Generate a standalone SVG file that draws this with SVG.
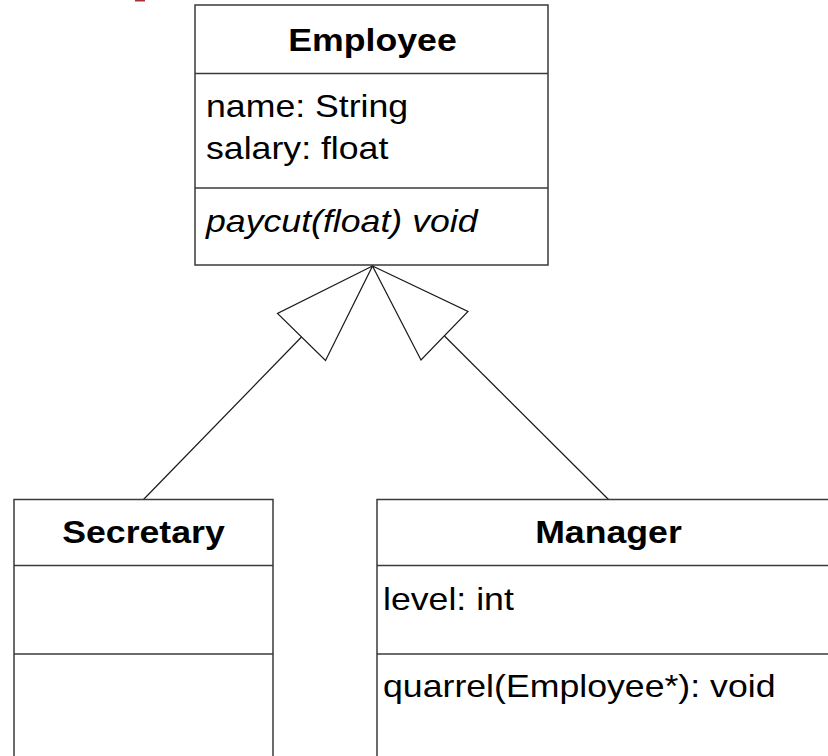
<svg xmlns="http://www.w3.org/2000/svg" width="828" height="756" viewBox="0 0 828 756">
  <style>
    .box { fill: #ffffff; stroke: #3a3a3a; stroke-width: 1.5; }
    .sep { stroke: #3a3a3a; stroke-width: 1.5; }
    .edge { fill: none; stroke: #1a1a1a; stroke-width: 1.2; }
    .head { fill: #ffffff; stroke: #1a1a1a; stroke-width: 1.2; stroke-linejoin: miter; }
    text { font-family: "Liberation Sans", Arial, Helvetica, sans-serif; font-size: 32px; fill: #000000; }
    .title { font-weight: bold; text-anchor: middle; }
    .op { font-style: italic; }
  </style>

  <!-- clipped fragment at the top edge -->
  <rect x="135" y="0" width="10" height="1.5" fill="#a83232"/>

  <!-- generalization connectors -->
  <g id="connectors">
    <line class="edge" x1="301.5" y1="337" x2="143.5" y2="499.5"/>
    <polygon class="head" points="372.5,266 277.5,313.5 325.5,360.5"/>
    <line class="edge" x1="444.5" y1="336" x2="608.5" y2="499.5"/>
    <polygon class="head" points="372.5,266 468,311.5 421,360"/>
  </g>

  <!-- Employee -->
  <g id="employee">
    <rect class="box" x="195" y="5" width="353" height="260"/>
    <line class="sep" x1="195" y1="73.5" x2="548" y2="73.5"/>
    <line class="sep" x1="195" y1="188" x2="548" y2="188"/>
    <text class="title" transform="translate(372.5,50.5) scale(1.115,1)">Employee</text>
    <text transform="translate(206,117) scale(1.115,1)">name: String</text>
    <text transform="translate(206,159) scale(1.115,1)">salary: float</text>
    <text class="op" transform="translate(206,231.5) scale(1.115,1)">paycut(float) void</text>
  </g>

  <!-- Secretary -->
  <g id="secretary">
    <rect class="box" x="14" y="499.5" width="259" height="300"/>
    <line class="sep" x1="14" y1="565.5" x2="273" y2="565.5"/>
    <line class="sep" x1="14" y1="654" x2="273" y2="654"/>
    <text class="title" transform="translate(143.5,543) scale(1.115,1)">Secretary</text>
  </g>

  <!-- Manager -->
  <g id="manager">
    <rect class="box" x="377" y="499.5" width="463" height="300"/>
    <line class="sep" x1="377" y1="565.5" x2="840" y2="565.5"/>
    <line class="sep" x1="377" y1="654" x2="840" y2="654"/>
    <text class="title" transform="translate(608.5,543) scale(1.115,1)">Manager</text>
    <text transform="translate(383,610) scale(1.115,1)">level: int</text>
    <text transform="translate(383,697) scale(1.115,1)">quarrel(Employee*): void</text>
  </g>
</svg>
